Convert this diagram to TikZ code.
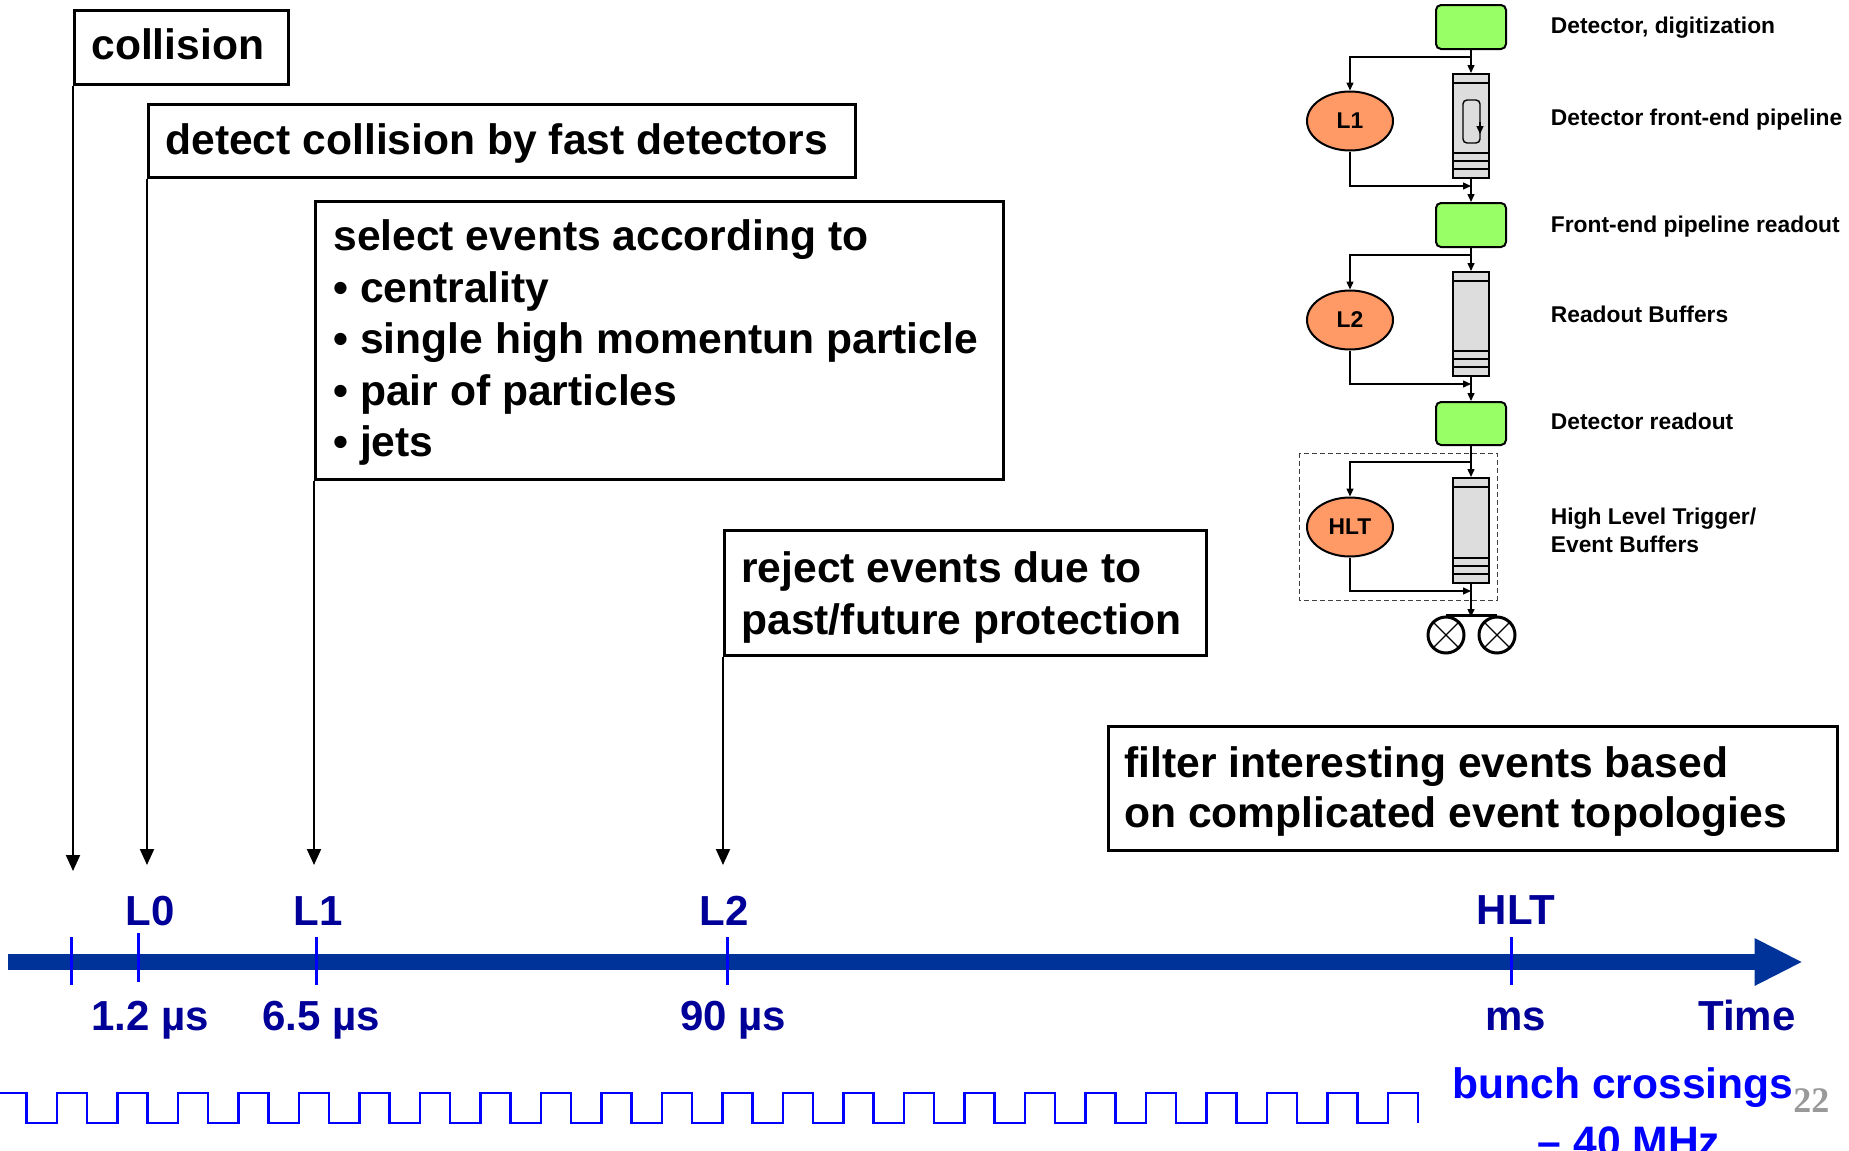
\documentclass[tikz,border=0pt]{standalone}
\usepackage{fontspec}
\setmainfont{Liberation Sans}
\newfontfamily\pagenumfont{Liberation Serif}
\usetikzlibrary{arrows.meta,shapes.geometric}
\definecolor{barblue}{RGB}{0,51,153}
\definecolor{tickblue}{RGB}{0,0,255}
\definecolor{navy}{RGB}{0,0,153}
\definecolor{boxgreen}{RGB}{153,255,102}
\definecolor{ellorange}{RGB}{255,153,102}
\definecolor{pipegray}{RGB}{221,221,221}
\newcommand\bigtxt{\fontsize{21.3}{25.5}\selectfont\bfseries}
\newcommand\tltxt{\fontsize{21}{25}\selectfont\bfseries}
\newcommand\smalltxt{\fontsize{11.4}{14}\selectfont\bfseries}
\begin{document}
\begin{tikzpicture}[x=0.5pt,y=-0.5pt,
  tbox/.style={draw, line width=1.25pt, anchor=north west, inner sep=0pt},
  btext/.style={anchor=base west, inner sep=0pt, font=\bigtxt},
  arr/.style={-{Triangle[width=7pt,length=8pt]}, line width=1pt},
  tick/.style={tickblue, line width=1.5pt},
  tl/.style={anchor=base, inner sep=0pt, text=navy, font=\tltxt},
  gbox/.style={draw, line width=1pt, fill=boxgreen, rounded corners=2.5pt, minimum width=35pt, minimum height=22pt, inner sep=0pt},
  pipe/.style={draw, line width=1pt, fill=pipegray, minimum width=18pt, minimum height=52pt, inner sep=0pt},
  trig/.style={ellipse, draw, line width=1pt, fill=ellorange, minimum width=43pt, minimum height=29.5pt, inner sep=0pt, font=\smalltxt},
  sline/.style={line width=0.7pt},
  sarr/.style={-{Triangle[width=3.5pt,length=4pt]}, line width=0.7pt},
  stext/.style={anchor=base west, inner sep=0pt, font=\smalltxt},
  reel/.style={circle, draw, line width=1.5pt, minimum size=18pt, inner sep=0pt}
]
\useasboundingbox (0,0) rectangle (1849,1151);

% ---------- left boxes ----------
\node[tbox, minimum width=107pt, minimum height=37pt] (collision) at (73,9) {};
\node[btext] (collisiont) at (91,60) {collision};

\node[tbox, minimum width=353.5pt, minimum height=36.5pt] (detect) at (147,103) {};
\node[btext] (detectt) at (165,154) {detect collision by fast detectors};

\node[tbox, minimum width=344pt, minimum height=139pt] (select) at (314,200) {};
\node[btext] (sel1) at (333,250.5) {select events according to};
\node[btext] (sel2) at (333,302) {• centrality};
\node[btext] (sel3) at (333,353.5) {• single high momentun particle};
\node[btext] (sel4) at (333,405) {• pair of particles};
\node[btext] (sel5) at (333,456.5) {• jets};

\node[tbox, minimum width=241pt, minimum height=62.5pt] (reject) at (723,529) {};
\node[btext] (rej1) at (741,582) {reject events due to};
\node[btext] (rej2) at (741,634) {past/future protection};

\node[tbox, minimum width=364.5pt, minimum height=62pt] (filter) at (1107,725) {};
\node[btext] (fil1) at (1124,777.5) {filter interesting events based};
\node[btext] (fil2) at (1124,827.5) {on complicated event topologies};

% ---------- arrows down to time axis ----------
\coordinate (tip0) at (73,871);
\coordinate (tip1) at (147,865);
\coordinate (tip2) at (314,865);
\coordinate (tip3) at (723,865);
\draw[arr] (collision.south west) -- (tip0);
\draw[arr] (detect.south west) -- (tip1);
\draw[arr] (select.south west) -- (tip2);
\draw[arr] (reject.south west) -- (tip3);

% ---------- time axis ----------
\coordinate (ta) at (8,962);
\coordinate (tz) at (1757,962);
\draw[barblue, line width=8pt] (ta) -- (tz);
\fill[barblue] (1754.5,938) -- (1801.5,962) -- (1754.5,986) -- cycle;

\draw[tick] (71,937) -- (71,985);
\draw[tick] (138,933) -- (138,982);
\draw[tick] (316,937) -- (316,985);
\draw[tick] (727,937) -- (727,985);
\draw[tick] (1511,937) -- (1511,985);

\node[tl] (l0) at (150,925) {L0};
\node[tl] (l1) at (318,925) {L1};
\node[tl] (l2) at (724,925) {L2};
\node[tl] (lhlt) at (1516,924) {HLT};

\node[tl] (t0) at (150,1030) {1.2 µs};
\node[tl] (t1) at (321,1030) {6.5 µs};
\node[tl] (t2) at (733,1030) {90 µs};
\node[tl] (t3) at (1516,1030) {ms};
\node[tl] (t4) at (1747,1030) {Time};

% ---------- bunch crossings ----------
\draw[tickblue, line width=1.25pt, line join=miter]
  (0,1093) -- (26.5,1093)
  foreach \k in {0,...,22}{ -- ({26.5+60.5*\k},1123) -- ({57+60.5*\k},1123) -- ({57+60.5*\k},1093) -- ({87+60.5*\k},1093) }
  -- (1418,1123);
\node[anchor=base, inner sep=0pt, text=tickblue, font=\bigtxt] (bc1) at (1623,1098) {bunch crossings};
\node[anchor=base, inner sep=0pt, text=tickblue, font=\bigtxt] (bc2) at (1629,1156) {– 40 MHz};
\node[anchor=base west, inner sep=0pt, text=black!40, font=\pagenumfont\fontsize{18}{20}\selectfont\bfseries] (pn) at (1793,1112) {22};

% ---------- trigger chain diagram ----------
\begin{scope}[xshift=-1pt]
\node[gbox] (g1) at (1473,27) {};
\node[gbox] (g2) at (1473,225) {};
\node[gbox, minimum height=21.5pt] (g3) at (1473,423.5) {};

\node[pipe] (p1) at (1473,126) {};
\node[pipe] (p2) at (1473,324) {};
\node[pipe, minimum height=52.5pt] (p3) at (1473,530.5) {};

\foreach \p/\t/\b in {p1/74/178, p2/272/376, p3/478/583}{
  \draw[line width=0.7pt] (1455,\t+9) -- (1491,\t+9);
  \draw[line width=0.7pt] (1455,\b-25) -- (1491,\b-25);
  \draw[line width=0.7pt] (1455,\b-17) -- (1491,\b-17);
  \draw[line width=0.7pt] (1455,\b-9) -- (1491,\b-9);
}
\draw[line width=0.7pt, rounded corners=2pt] (1465,100) rectangle (1482,143);
\draw[-{Triangle[width=3.5pt,length=4pt]}, line width=0.7pt] (1482,122) -- (1482,134);

\node[trig] (e1) at (1352,121) {L1};
\node[trig] (e2) at (1352,320) {L2};
\node[trig] (e3) at (1352,527) {HLT};

\draw[dashed, dash pattern=on 2.5pt off 1.5pt, line width=0.5pt, black!75] (1301,453) rectangle (1499,600);

% stage 1
\coordinate (j1) at (1473,57);
\coordinate (m1) at (1473,186);
\draw[sline] (g1.south) -- (j1);
\draw[sarr] (j1) -- (p1.north);
\draw[sarr] (j1) -| (e1.north);
\draw[sarr] (e1.south) |- (m1);
\draw[sarr] (p1.south) -- (g2.north);
% stage 2
\coordinate (j2) at (1473,255);
\coordinate (m2) at (1473,384);
\draw[sline] (g2.south) -- (j2);
\draw[sarr] (j2) -- (p2.north);
\draw[sarr] (j2) -| (e2.north);
\draw[sarr] (e2.south) |- (m2);
\draw[sarr] (p2.south) -- (g3.north);
% stage 3
\coordinate (j3) at (1473,462);
\coordinate (m3) at (1473,591);
\draw[sline] (g3.south) -- (j3);
\draw[sarr] (j3) -- (p3.north);
\draw[sarr] (j3) -| (e3.north);
\draw[sarr] (e3.south) |- (m3);

% storage reels
\node[reel] (c1) at (1448,635) {};
\node[reel] (c2) at (1499,635) {};
\draw[line width=0.6pt] (c1.north west) -- (c1.south east) (c1.north east) -- (c1.south west);
\draw[line width=0.6pt] (c2.north west) -- (c2.south east) (c2.north east) -- (c2.south west);
\draw[line width=1.5pt] (c1.north) -- (c2.north);
\coordinate (tb) at (1473,617);
\draw[sarr] (p3.south) -- (tb);

% labels
\node[stext] (d1) at (1552.5,33) {Detector, digitization};
\node[stext] (d2) at (1552.5,125) {Detector front-end pipeline};
\node[stext] (d3) at (1552.5,232) {Front-end pipeline readout};
\node[stext] (d4) at (1552.5,322) {Readout Buffers};
\node[stext] (d5) at (1552.5,429) {Detector readout};
\node[stext] (d6) at (1552.5,524) {High Level Trigger/};
\node[stext] (d7) at (1552.5,552) {Event Buffers};
\end{scope}
\end{tikzpicture}
\end{document}
